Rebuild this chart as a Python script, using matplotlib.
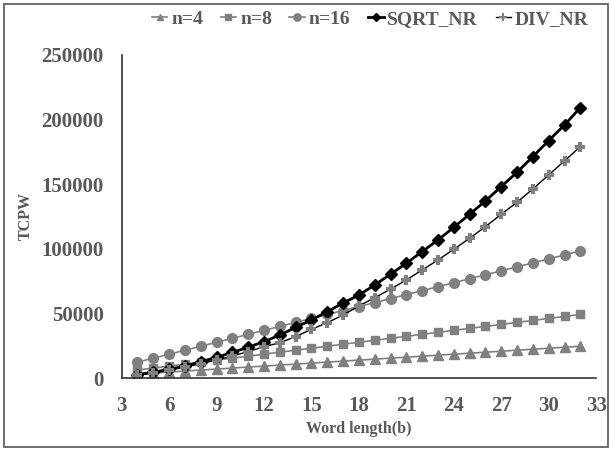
import matplotlib
matplotlib.use("Agg")
import matplotlib.pyplot as plt
from matplotlib.patches import Rectangle

word_length = list(range(4, 33))
n4 = [3072, 3840, 4608, 5376, 6144, 6912, 7680, 8448, 9216, 9984, 10752, 11520, 12288, 13056,
      13824, 14592, 15360, 16128, 16896, 17664, 18432, 19200, 19968, 20736, 21504, 22272,
      23040, 23808, 24576]
n8 = [6144, 7680, 9216, 10752, 12288, 13824, 15360, 16896, 18432, 19968, 21504, 23040, 24576,
      26112, 27648, 29184, 30720, 32256, 33792, 35328, 36864, 38400, 39936, 41472, 43008,
      44544, 46080, 47616, 49152]
n16 = [12288, 15360, 18432, 21504, 24576, 27648, 30720, 33792, 36864, 39936, 43008, 46080,
       49152, 52224, 55296, 58368, 61440, 64512, 67584, 70656, 73728, 76800, 79872, 82944,
       86016, 89088, 92160, 95232, 98304]
sqrt_nr = [2600, 4500, 6700, 9300, 12500, 16000, 19800, 23800, 28100, 33300, 39200, 44900,
           51300, 58000, 64200, 72000, 80300, 88800, 97800, 106800, 116600, 126700, 137000,
           148100, 159200, 171300, 183700, 195800, 209200]
div_nr = [2200, 4000, 6000, 8500, 11000, 14000, 17000, 20500, 24200, 27300, 32000, 37700,
          42800, 48800, 55700, 62200, 68700, 75900, 83600, 91300, 99600, 108100, 117100,
          126700, 136000, 146300, 157100, 168000, 179000]
series_labels = ["n=4", "n=8", "n=16", "SQRT_NR", "DIV_NR"]
x_ticks = [3, 6, 9, 12, 15, 18, 21, 24, 27, 30, 33]
y_ticks = [0, 50000, 100000, 150000, 200000, 250000]

plt.rcParams['font.family'] = ['Liberation Serif', 'DejaVu Serif']
plt.rcParams['font.weight'] = 'bold'

fig = plt.figure(figsize=(6.13, 4.50), dpi=100)
ax = fig.add_axes([0.1985, 0.16, 0.774, 0.718])

gray = "#808080"
txt = "#595959"
ax.plot(word_length, n4, color=gray, lw=1.2, marker='^', ms=6.5, mfc=gray, mec=gray, label=series_labels[0])
ax.plot(word_length, n8, color=gray, lw=1.2, marker='s', ms=6, mfc=gray, mec=gray, label=series_labels[1])
ax.plot(word_length, n16, color=gray, lw=1.2, marker='o', ms=7, mfc=gray, mec=gray, label=series_labels[2])
ax.plot(word_length, sqrt_nr, color='black', lw=2.0, marker='D', ms=6, mfc='black', mec='black', label=series_labels[3])
ax.plot(word_length, div_nr, color='black', lw=1.0, marker='P', ms=7, mfc=gray, mec=gray, mew=0, label=series_labels[4])

ax.set_xlim(3, 33)
ax.set_ylim(0, 250000)
ax.set_xticks(x_ticks)
ax.set_yticks(y_ticks)
ax.tick_params(length=0, labelsize=15, colors=txt)
ax.tick_params(axis='y', pad=13)
ax.tick_params(axis='x', pad=13)
for lab in ax.get_xticklabels() + ax.get_yticklabels():
    lab.set_fontweight('bold')
for s in ['top', 'right']:
    ax.spines[s].set_visible(False)
for s in ['left', 'bottom']:
    ax.spines[s].set_color('#333333')
    ax.spines[s].set_linewidth(1.2)

ax.set_xlabel("Word length(b)", fontsize=11.5, fontweight='bold', color=txt)
ax.xaxis.set_label_coords(0.5, -0.133)
ax.set_ylabel("TCPW", fontsize=11.5, fontweight='bold', color=txt)
ax.yaxis.set_label_coords(-0.186, 0.5)

leg = fig.legend(loc='center', bbox_to_anchor=(0.604, 0.958), ncol=5, frameon=False,
                 fontsize=14, handlelength=0.8, handletextpad=0.2, columnspacing=0.9,
                 markerscale=0.75)
for t in leg.get_texts():
    t.set_color(txt)
    t.set_fontweight('bold')

fig.patches.append(Rectangle((0.007, 0.007), 0.985, 0.985, transform=fig.transFigure,
                             fill=False, edgecolor='#555555', lw=1.2))

fig.savefig("out.png", dpi=100)
